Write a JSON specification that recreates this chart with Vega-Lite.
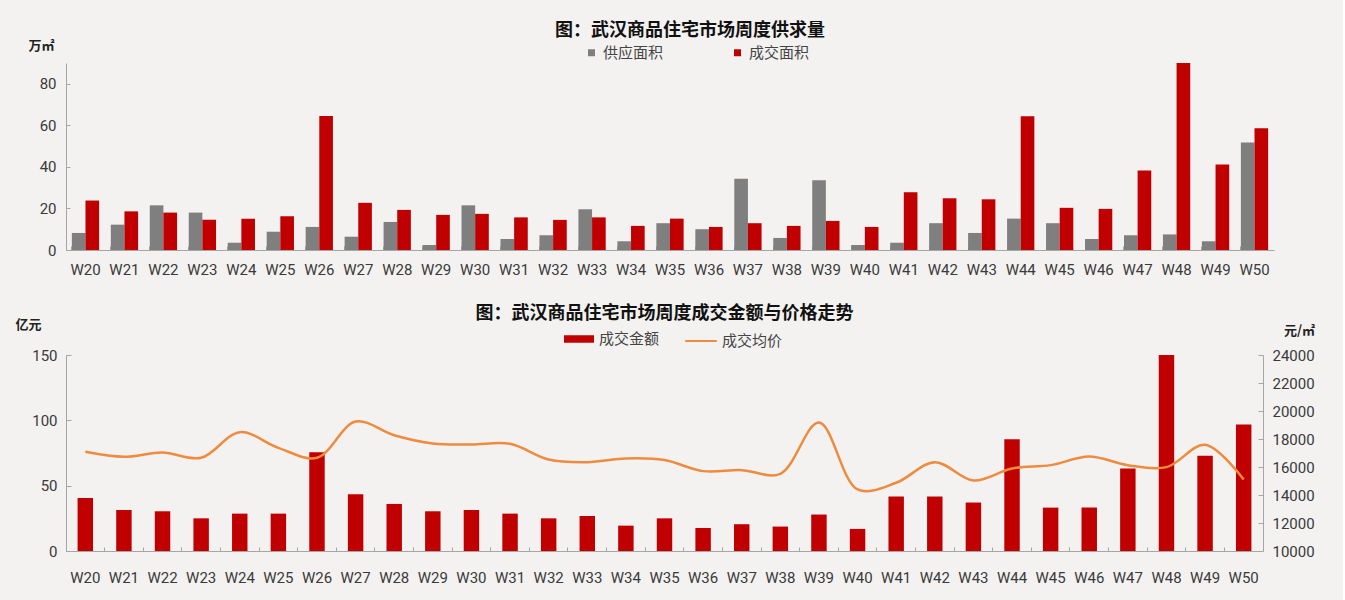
{
  "$schema": "https://vega.github.io/schema/vega-lite/v6.json",
  "background": "#f3f2f0",
  "padding": {"left": 14, "top": 22, "right": 28, "bottom": 15},
  "config": {
    "font": "Noto Sans CJK SC",
    "view": {"stroke": null},
    "axis": {
      "labelFont": "Roboto", "labelFontSize": 15, "labelColor": "#3a3a3a",
      "domainColor": "#a6a6a6", "tickColor": "#a6a6a6", "grid": false,
      "titleFont": "Noto Sans CJK SC", "titleFontSize": 13, "titleFontWeight": "bold", "titleColor": "#222222"
    },
    "legend": {"labelFont": "Noto Sans CJK SC", "labelFontSize": 15, "labelColor": "#444444"},
    "title": {"font": "Noto Sans CJK SC", "fontSize": 18, "fontWeight": "bold", "color": "#111111", "anchor": "middle"},
    "concat": {"spacing": 28}
  },
  "resolve": {"legend": {"color": "independent", "fill": "independent", "stroke": "independent"}},
  "datasets": {
    "area": [
      {"week": "W20", "供应面积": 8.2, "成交面积": 23.8},
      {"week": "W21", "供应面积": 12.2, "成交面积": 18.6},
      {"week": "W22", "供应面积": 21.5, "成交面积": 18.0},
      {"week": "W23", "供应面积": 18.0, "成交面积": 14.5},
      {"week": "W24", "供应面积": 3.5, "成交面积": 15.1},
      {"week": "W25", "供应面积": 8.8, "成交面积": 16.2},
      {"week": "W26", "供应面积": 11.1, "成交面积": 64.5},
      {"week": "W27", "供应面积": 6.4, "成交面积": 22.7},
      {"week": "W28", "供应面积": 13.5, "成交面积": 19.3},
      {"week": "W29", "供应面积": 2.4, "成交面积": 16.9},
      {"week": "W30", "供应面积": 21.5, "成交面积": 17.4},
      {"week": "W31", "供应面积": 5.3, "成交面积": 15.7},
      {"week": "W32", "供应面积": 7.1, "成交面积": 14.5},
      {"week": "W33", "供应面积": 19.6, "成交面积": 15.7},
      {"week": "W34", "供应面积": 4.2, "成交面积": 11.6},
      {"week": "W35", "供应面积": 12.9, "成交面积": 15.1},
      {"week": "W36", "供应面积": 10.0, "成交面积": 11.1},
      {"week": "W37", "供应面积": 34.3, "成交面积": 12.9},
      {"week": "W38", "供应面积": 5.8, "成交面积": 11.6},
      {"week": "W39", "供应面积": 33.6, "成交面积": 14.0},
      {"week": "W40", "供应面积": 2.4, "成交面积": 11.1},
      {"week": "W41", "供应面积": 3.5, "成交面积": 27.8},
      {"week": "W42", "供应面积": 12.9, "成交面积": 24.9},
      {"week": "W43", "供应面积": 8.2, "成交面积": 24.4},
      {"week": "W44", "供应面积": 15.1, "成交面积": 64.4},
      {"week": "W45", "供应面积": 12.9, "成交面积": 20.3},
      {"week": "W46", "供应面积": 5.3, "成交面积": 19.8},
      {"week": "W47", "供应面积": 7.1, "成交面积": 38.3},
      {"week": "W48", "供应面积": 7.5, "成交面积": 90.0},
      {"week": "W49", "供应面积": 4.2, "成交面积": 41.2},
      {"week": "W50", "供应面积": 51.7, "成交面积": 58.6}
    ],
    "money": [
      {"week": "W20", "amount": 40.6, "price": 17083},
      {"week": "W21", "amount": 31.4, "price": 16727},
      {"week": "W22", "amount": 30.4, "price": 17036},
      {"week": "W23", "amount": 25.0, "price": 16656},
      {"week": "W24", "amount": 28.6, "price": 18486},
      {"week": "W25", "amount": 28.6, "price": 17369},
      {"week": "W26", "amount": 75.6, "price": 16656},
      {"week": "W27", "amount": 43.4, "price": 19247},
      {"week": "W28", "amount": 36.0, "price": 18272},
      {"week": "W29", "amount": 30.4, "price": 17678},
      {"week": "W30", "amount": 31.4, "price": 17606},
      {"week": "W31", "amount": 28.6, "price": 17654},
      {"week": "W32", "amount": 25.0, "price": 16537},
      {"week": "W33", "amount": 26.8, "price": 16347},
      {"week": "W34", "amount": 19.4, "price": 16608},
      {"week": "W35", "amount": 25.0, "price": 16500},
      {"week": "W36", "amount": 17.6, "price": 15705},
      {"week": "W37", "amount": 20.5, "price": 15776},
      {"week": "W38", "amount": 18.7, "price": 15515},
      {"week": "W39", "amount": 27.9, "price": 19175},
      {"week": "W40", "amount": 16.9, "price": 14397},
      {"week": "W41", "amount": 41.7, "price": 14873},
      {"week": "W42", "amount": 41.7, "price": 16347},
      {"week": "W43", "amount": 37.1, "price": 15039},
      {"week": "W44", "amount": 85.6, "price": 15895},
      {"week": "W45", "amount": 33.2, "price": 16133},
      {"week": "W46", "amount": 33.2, "price": 16751},
      {"week": "W47", "amount": 63.1, "price": 16133},
      {"week": "W48", "amount": 150, "price": 15990},
      {"week": "W49", "amount": 72.8, "price": 17583},
      {"week": "W50", "amount": 96.8, "price": 15111}
    ]
  },
  "vconcat": [
    {
      "width": 1208,
      "height": 187,
      "title": {"text": "图：武汉商品住宅市场周度供求量", "dx": 20, "offset": -1},
      "data": {"name": "area"},
      "transform": [{"fold": ["供应面积", "成交面积"], "as": ["series", "value"]}],
      "mark": {"type": "bar"},
      "encoding": {
        "x": {
          "field": "week", "type": "nominal", "sort": null,
          "scale": {"paddingInner": 0.3, "paddingOuter": 0.15},
          "axis": {"title": null, "labelAngle": 0, "bandPosition": 0, "tickSize": -4, "labelPadding": 16}
        },
        "xOffset": {"field": "series", "type": "nominal", "sort": ["供应面积", "成交面积"]},
        "y": {
          "field": "value", "type": "quantitative",
          "scale": {"domain": [0, 90], "nice": false},
          "axis": {"values": [0, 20, 40, 60, 80], "tickSize": -4, "labelPadding": 14, "title": "万㎡", "titleAngle": 0, "titleX": -25, "titleY": -18, "titleAlign": "center", "titleBaseline": "middle"}
        },
        "color": {
          "field": "series", "type": "nominal",
          "scale": {"domain": ["供应面积", "成交面积"], "range": ["#7f7f7f", "#c00000"]},
          "legend": {"orient": "none", "legendX": 518, "legendY": -18, "direction": "horizontal", "title": null, "symbolType": "square", "symbolSize": 49, "symbolStrokeWidth": 0, "columnPadding": 66, "labelOffset": 4}
        }
      }
    },
    {
      "width": 1197,
      "height": 196,
      "title": {"text": "图：武汉商品住宅市场周度成交金额与价格走势", "dx": 0, "offset": -5},
      "data": {"name": "money"},
      "encoding": {
        "x": {
          "field": "week", "type": "nominal", "sort": null,
          "scale": {"paddingInner": 0, "paddingOuter": 0},
          "axis": {"title": null, "labelAngle": 0, "bandPosition": 0, "tickSize": -4, "labelPadding": 23}
        }
      },
      "layer": [
        {
          "mark": {"type": "bar", "width": {"band": 0.4}},
          "encoding": {
            "y": {
              "field": "amount", "type": "quantitative",
              "scale": {"domain": [0, 150], "nice": false},
              "axis": {"values": [0, 50, 100, 150], "tickSize": -5, "labelPadding": 14, "title": "亿元", "titleAngle": 0, "titleX": -38, "titleY": -31, "titleAlign": "center", "titleBaseline": "middle"}
            },
            "fill": {
              "datum": "成交金额",
              "scale": {"range": ["#c00000"]},
              "legend": {"orient": "none", "legendX": 498, "legendY": -31, "title": null, "symbolType": "M-1,-0.25H1V0.25H-1Z", "symbolSize": 900, "symbolStrokeWidth": 0, "labelOffset": 5}
            }
          }
        },
        {
          "mark": {"type": "line", "interpolate": "catmull-rom", "strokeWidth": 2.5},
          "encoding": {
            "y": {
              "field": "price", "type": "quantitative",
              "scale": {"domain": [10000, 24000], "nice": false},
              "axis": {"orient": "right", "format": "d", "values": [10000, 12000, 14000, 16000, 18000, 20000, 22000, 24000], "tickSize": -5, "labelPadding": 14, "title": "元/㎡", "titleAngle": 0, "titleX": 36, "titleY": -25, "titleAlign": "center", "titleBaseline": "middle"}
            },
            "stroke": {
              "datum": "成交均价",
              "scale": {"range": ["#ef8b3e"]},
              "legend": {"orient": "none", "legendX": 618, "legendY": -31, "title": null, "symbolType": "stroke", "symbolSize": 1000, "symbolStrokeWidth": 2, "labelOffset": 4}
            }
          }
        }
      ],
      "resolve": {"scale": {"y": "independent"}}
    }
  ]
}
